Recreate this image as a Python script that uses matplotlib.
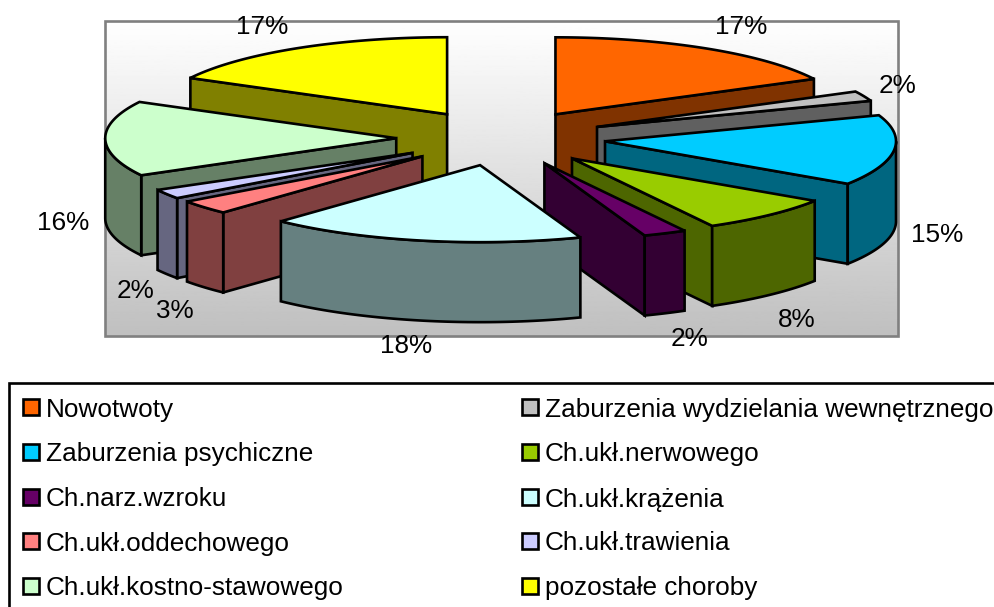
import matplotlib
matplotlib.use("Agg")
import matplotlib.pyplot as plt
import numpy as np
from matplotlib.patches import Polygon, Rectangle

plt.rcParams['font.family'] = ['Liberation Sans', 'DejaVu Sans']

# data (labels show the rounded percent)
labels = ["Nowotwoty", "Zaburzenia wydzielania wewnętrznego",
          "Zaburzenia psychiczne", "Ch.ukł.nerwowego",
          "Ch.narz.wzroku", "Ch.ukł.krążenia",
          "Ch.ukł.oddechowego", "Ch.ukł.trawienia",
          "Ch.ukł.kostno-stawowego", "pozostałe choroby"]
values = [17.4, 2.1, 14.8, 7.7, 2.4, 17.6, 3.0, 2.0, 15.8, 17.2]
colors = ["#FF6600", "#C0C0C0", "#00CCFF", "#99CC00", "#660066",
          "#CCFFFF", "#FF8080", "#CCCCFF", "#CCFFCC", "#FFFF00"]

# layout of the fake 3d pie, in pixels
CX, CY = 501, 138
RX, RY = 291, 77
EXPLODE = 0.36
DEPTH = 80
LW = 1.9
label_pos = [(741, 27), (897, 86), (937, 235), (797, 320), (690, 339),
             (406, 346), (175, 311), (135, 291), (63, 223), (262, 27)]


def ell(theta, r=1.0):
    # theta in radians, clockwise from 12 o'clock
    return r * RX * np.sin(theta), -r * RY * np.cos(theta)


def face(ax, xs, ys, color):
    ax.add_patch(Polygon(np.column_stack([xs, ys]), closed=True, facecolor=color,
                         edgecolor="black", linewidth=LW, joinstyle="miter"))


def draw_wedge(ax, t1, t2, color):
    mid = (t1 + t2) / 2
    dx, dy = ell(mid, EXPLODE)
    ax0, ay0 = CX + dx, CY + dy
    side = tuple(c * 0.5 for c in matplotlib.colors.to_rgb(color))

    # radial walls, only the ones turned to the viewer
    if np.sin(t2) > 0:
        x, y = ell(t2)
        face(ax, [ax0, ax0 + x, ax0 + x, ax0],
             [ay0, ay0 + y, ay0 + y + DEPTH, ay0 + DEPTH], side)
    if np.sin(t1) < 0:
        x, y = ell(t1)
        face(ax, [ax0, ax0 + x, ax0 + x, ax0],
             [ay0, ay0 + y, ay0 + y + DEPTH, ay0 + DEPTH], side)

    # outer wall, front half of the ellipse
    a, b = max(t1, np.pi / 2), min(t2, 3 * np.pi / 2)
    if b > a:
        t = np.linspace(a, b, 60)
        x, y = ell(t)
        face(ax, np.r_[ax0 + x, ax0 + x[::-1]],
             np.r_[ay0 + y, ay0 + y[::-1] + DEPTH], side)

    # top
    t = np.linspace(t1, t2, 80)
    x, y = ell(t)
    face(ax, np.r_[ax0, ax0 + x], np.r_[ay0, ay0 + y], color)


fig = plt.figure(figsize=(9.95, 6.07), dpi=100)
ax = fig.add_axes([0, 0, 1, 1])
ax.set_xlim(0, 995)
ax.set_ylim(607, 0)
ax.axis("off")

# plot area with grey gradient
grad = np.linspace(1.0, 0.75, 256).reshape(-1, 1)
ax.imshow(grad, cmap="gray", vmin=0, vmax=1, extent=(105, 898, 336, 21), aspect="auto", zorder=0)
ax.set_xlim(0, 995)
ax.set_ylim(607, 0)
ax.add_patch(Rectangle((105, 21), 793, 315, fill=False, edgecolor="#808080", linewidth=1.9))

fracs = np.cumsum([0] + values) / sum(values) * 2 * np.pi
mids = (fracs[:-1] + fracs[1:]) / 2
# back wedges first
for i in np.argsort(-np.cos(mids), kind="stable"):
    draw_wedge(ax, fracs[i], fracs[i + 1], colors[i])

for v, (lx, ly) in zip(values, label_pos):
    ax.text(lx, ly, f"{v:.0f}%", fontsize=18.8, ha="center", va="center", color="black")

# legend box runs off the picture on the right and bottom
ax.add_patch(Rectangle((9, 383), 1000, 240, facecolor="white", edgecolor="black",
                       linewidth=1.9, clip_on=True))
row_y = [407, 452, 497, 541, 586]
col_x = [23, 522]
for i, name in enumerate(labels):
    x = col_x[i % 2]
    y = row_y[i // 2]
    ax.add_patch(Rectangle((x, y - 8), 16, 16, facecolor=colors[i], edgecolor="black", linewidth=1.9))
    ax.text(x + 23, y, name, fontsize=18.8, ha="left", va="center_baseline", color="black")

fig.savefig("out.png", dpi=100)
